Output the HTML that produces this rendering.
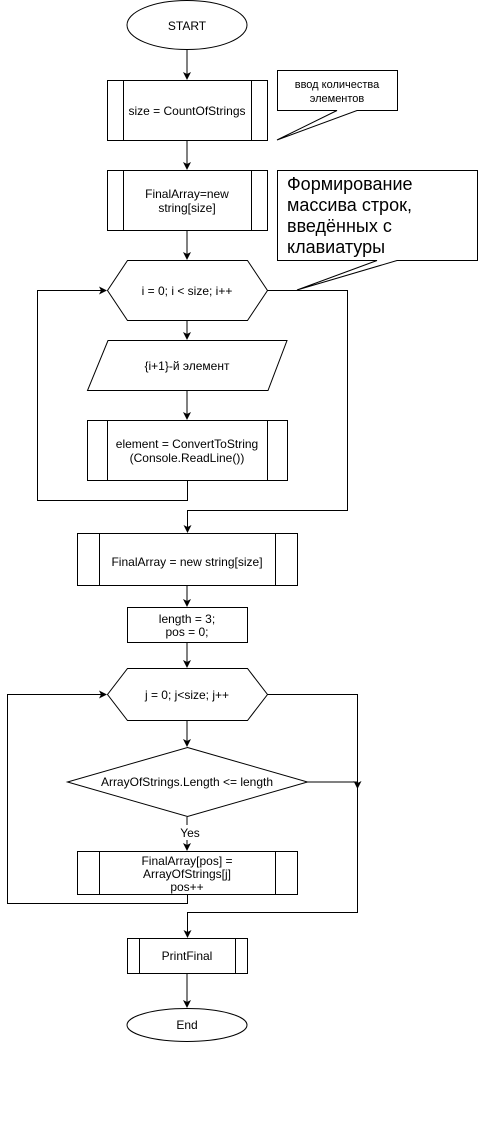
<!DOCTYPE html>
<html><head><meta charset="utf-8"><style>body{margin:0;background:#fff}svg{display:block}text{font-family:"Liberation Sans","DejaVu Sans",sans-serif;font-size:12px;fill:#000}</style></head><body>
<svg width="478" height="1121" viewBox="0 0 478 1121" xmlns="http://www.w3.org/2000/svg">
<defs><marker id="a" markerWidth="8" markerHeight="8" refX="7" refY="4" orient="auto" markerUnits="userSpaceOnUse"><path d="M0,0 L8,4 L0,8 L2,4 z" fill="#000"/></marker></defs>
<g fill="none" stroke="#000" stroke-width="1">
<ellipse cx="187" cy="25" rx="60" ry="24.5" fill="#fff"/>
<line x1="187" y1="50" x2="187" y2="79" marker-end="url(#a)"/>
<rect x="107.5" y="80.5" width="160" height="60"/><line x1="123.5" y1="80" x2="123.5" y2="140"/><line x1="251.5" y1="80" x2="251.5" y2="140"/>
<path d="M277.5,70.5 H397.5 V110.5 H357 L277,140 L337,110.5 H277.5 Z"/>
<line x1="187" y1="141" x2="187" y2="169" marker-end="url(#a)"/>
<rect x="107.5" y="170.5" width="160" height="60"/><line x1="123.5" y1="170" x2="123.5" y2="230"/><line x1="251.5" y1="170" x2="251.5" y2="230"/>
<path d="M277.5,170.5 H477.5 V260.5 H397 L297,290 L377,260.5 H277.5 Z"/>
<line x1="187" y1="231" x2="187" y2="259" marker-end="url(#a)"/>
<path d="M127.5,260.5 H247.5 L267.5,290.5 L247.5,320.5 H127.5 L107.5,290.5 Z"/>
<path d="M187.5,480 V500.5 H37.5 V290.5 H106" marker-end="url(#a)"/>
<path d="M267.5,290.5 H347.5 V510.5 H187.5 V532" marker-end="url(#a)"/>
<line x1="187" y1="321" x2="187" y2="339" marker-end="url(#a)"/>
<path d="M108,340.5 H287 L268,390.5 H87.5 Z"/>
<line x1="187" y1="391" x2="187" y2="419" marker-end="url(#a)"/>
<rect x="87.5" y="420.5" width="200" height="60"/><line x1="107.5" y1="420" x2="107.5" y2="480"/><line x1="267.5" y1="420" x2="267.5" y2="480"/>
<rect x="77.5" y="533.5" width="220" height="52"/><line x1="99.5" y1="533" x2="99.5" y2="585"/><line x1="275.5" y1="533" x2="275.5" y2="585"/>
<line x1="187" y1="586" x2="187" y2="606" marker-end="url(#a)"/>
<rect x="127.5" y="607.5" width="120" height="35"/>
<line x1="187" y1="643" x2="187" y2="667" marker-end="url(#a)"/>
<path d="M127.5,668.5 H247.5 L267.5,694.5 L247.5,720.5 H127.5 L107.5,694.5 Z"/>
<path d="M187.5,895 V903.5 H7.5 V694.5 H106" marker-end="url(#a)"/>
<path d="M267.5,694.5 H357.5 V788" marker-end="url(#a)"/>
<path d="M357.5,785 V912.5 H187.5 V937" marker-end="url(#a)"/>
<line x1="187" y1="721" x2="187" y2="746" marker-end="url(#a)"/>
<path d="M187.5,747.5 L307.5,782 L187.5,816.5 L67.5,782 Z"/>
<line x1="307" y1="782" x2="357" y2="782"/>
<line x1="187" y1="817" x2="187" y2="825"/>
<line x1="187" y1="840" x2="187" y2="850" marker-end="url(#a)"/>
<rect x="77.5" y="851.5" width="220" height="43"/><line x1="99.5" y1="851" x2="99.5" y2="895"/><line x1="275.5" y1="851" x2="275.5" y2="895"/>
<rect x="127.5" y="938.5" width="120" height="35"/><line x1="139.5" y1="938" x2="139.5" y2="973"/><line x1="235.5" y1="938" x2="235.5" y2="973"/>
<line x1="187" y1="974" x2="187" y2="1007" marker-end="url(#a)"/>
<ellipse cx="187" cy="1025" rx="60" ry="16.5"/>
</g>
<g text-anchor="middle">
<text x="187" y="30">START</text>
<text x="187" y="115">size = CountOfStrings</text>
<text x="337" y="88" style="font-size:11px">ввод количества</text>
<text x="337" y="102" style="font-size:11px">элементов</text>
<text x="187" y="198">FinalArray=new</text>
<text x="187" y="212">string[size]</text>
<text x="187" y="295">i = 0; i &lt; size; i++</text>
<text x="187" y="370">{i+1}-й  элемент</text>
<text x="187" y="448">element = ConvertToString</text>
<text x="187" y="462">(Console.ReadLine())</text>
<text x="187" y="566">FinalArray = new string[size]</text>
<text x="187" y="623">length = 3;</text>
<text x="187" y="636">pos = 0;</text>
<text x="187" y="699">j = 0; j&lt;size; j++</text>
<text x="187" y="786">ArrayOfStrings.Length &lt;= length</text>
<text x="190" y="837">Yes</text>
<text x="187" y="865">FinalArray[pos] =</text>
<text x="187" y="878">ArrayOfStrings[j]</text>
<text x="187" y="891">pos++</text>
<text x="187" y="960">PrintFinal</text>
<text x="187" y="1029">End</text>
</g>
<g>
<text x="287" y="190" style="font-size:18px">Формирование</text>
<text x="287" y="211" style="font-size:18px">массива строк,</text>
<text x="287" y="232" style="font-size:18px">введённых с</text>
<text x="287" y="253" style="font-size:18px">клавиатуры</text>
</g>
</svg>
</body></html>
